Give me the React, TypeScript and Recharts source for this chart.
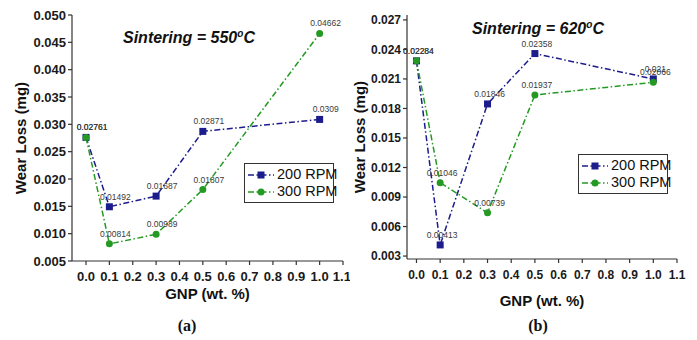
import { LineChart, Line, XAxis, YAxis, Legend, LabelList } from "recharts";

const gnp = [0, 0.1, 0.3, 0.5, 1.0];
const xTicks = [0, 0.1, 0.2, 0.3, 0.4, 0.5, 0.6, 0.7, 0.8, 0.9, 1.0, 1.1];

const rpm200at550 = [0.02761, 0.01492, 0.01687, 0.02871, 0.0309];
const rpm300at550 = [0.02761, 0.00814, 0.00989, 0.01807, 0.04662];
const rpm200at620 = [0.02284, 0.00413, 0.01846, 0.02358, 0.021];
const rpm300at620 = [0.02284, 0.01046, 0.00739, 0.01937, 0.02066];

const ticks550 = [0.005, 0.01, 0.015, 0.02, 0.025, 0.03, 0.035, 0.04, 0.045, 0.05];
const ticks620 = [0.003, 0.006, 0.009, 0.012, 0.015, 0.018, 0.021, 0.024, 0.027];

const BLUE = "#1c1c8c";
const GREEN = "#249a24";
const DASH = "6 2.5 1.5 2.5";
const FONT = "'Liberation Sans', Arial, sans-serif";

const build = (a: number[], b: number[]) =>
  gnp.map((x, i) => ({ x, r200: a[i], r300: b[i] }));

const SquareDot = (props: any) => {
  const { cx, cy, index } = props;
  return <rect key={"s" + index} x={cx - 3.5} y={cy - 3.5} width={7} height={7} fill={BLUE} />;
};
const RoundDot = (props: any) => {
  const { cx, cy, index } = props;
  return <circle key={"c" + index} cx={cx} cy={cy} r={3.5} fill={GREEN} />;
};

const ValueLabel = (dx: number) => (props: any) => {
  const { x, y, value, index } = props;
  return (
    <text key={"l" + index} x={x + dx} y={y - 7} textAnchor="middle" fontSize={8.5} fill="#3a3a3a" fontFamily={FONT}>
      {String(value)}
    </text>
  );
};

const LegendBox = (props: any) => {
  const items = props.payload || [];
  return (
    <div style={{ border: "1px solid #333", background: "#fff", padding: "2px 3px", fontFamily: FONT, fontSize: 14.5, color: "#111", width: 82, whiteSpace: "nowrap", lineHeight: "17px" }}>
      {items.map((p: any) => {
        const blue = p.value === "200 RPM";
        return (
          <div key={p.value} style={{ display: "flex", alignItems: "center", height: 17 }}>
            <svg width={26} height={10} style={{ marginRight: 3, flex: "none" }}>
              <line x1={0} y1={5} x2={26} y2={5} stroke={blue ? BLUE : GREEN} strokeWidth={1.5} strokeDasharray={DASH} />
              {blue ? <rect x={9.5} y={1.5} width={7} height={7} fill={BLUE} /> : <circle cx={13} cy={5} r={3.5} fill={GREEN} />}
            </svg>
            <span>{p.value}</span>
          </div>
        );
      })}
    </div>
  );
};

type PanelProps = {
  data: { x: number; r200: number; r300: number }[];
  width: number;
  margin: { top: number; right: number; bottom: number; left: number };
  xDomain: [number, number];
  yDomain: [number, number];
  yTicks: number[];
  yWidth: number;
  tickFont: number;
  yLabelOffset: number;
  xLabelOffset: number;
  labelDx: number;
  legendPos: { left: number; top: number };
};

function Panel(p: PanelProps) {
  const tickStyle = { fill: "#1a1a1a", fontSize: p.tickFont, fontWeight: 700, fontFamily: FONT };
  const axisStroke = { stroke: "#333", strokeWidth: 1.2 };
  return (
    <LineChart width={p.width} height={340} data={p.data} margin={p.margin}>
      <XAxis
        dataKey="x"
        type="number"
        domain={p.xDomain}
        ticks={xTicks}
        tickFormatter={(v: number) => v.toFixed(1)}
        allowDataOverflow
        height={30}
        tick={tickStyle}
        tickSize={4}
        tickMargin={7}
        axisLine={axisStroke}
        tickLine={axisStroke}
        label={{ value: "GNP (wt. %)", position: "bottom", offset: p.xLabelOffset, style: { fontSize: 15, fontWeight: 700, fill: "#111", fontFamily: FONT } }}
      />
      <XAxis
        xAxisId="top"
        dataKey="x"
        type="number"
        orientation="top"
        domain={p.xDomain}
        ticks={xTicks}
        allowDataOverflow
        mirror
        height={0}
        tick={false}
        tickSize={4}
        axisLine={axisStroke}
        tickLine={axisStroke}
      />
      <YAxis
        type="number"
        domain={p.yDomain}
        ticks={p.yTicks}
        tickFormatter={(v: number) => v.toFixed(3)}
        allowDataOverflow
        width={p.yWidth}
        tick={tickStyle}
        tickSize={4}
        tickMargin={2}
        axisLine={axisStroke}
        tickLine={axisStroke}
        label={{ value: "Wear Loss (mg)", angle: -90, position: "insideLeft", offset: p.yLabelOffset, style: { textAnchor: "middle", fontSize: 15, fontWeight: 700, fill: "#111", fontFamily: FONT } }}
      />
      <YAxis
        yAxisId="right"
        type="number"
        orientation="right"
        domain={p.yDomain}
        ticks={p.yTicks}
        allowDataOverflow
        mirror
        width={0}
        tick={false}
        tickSize={4}
        axisLine={axisStroke}
        tickLine={axisStroke}
      />
      <Legend
        layout="horizontal"
        verticalAlign="middle"
        align="center"
        content={LegendBox}
        wrapperStyle={{ left: p.legendPos.left, top: p.legendPos.top, width: "auto" }}
      />
      <Line
        name="200 RPM"
        dataKey="r200"
        stroke={BLUE}
        strokeWidth={1.5}
        strokeDasharray={DASH}
        dot={SquareDot}
        activeDot={false}
        isAnimationActive={false}
      >
        <LabelList dataKey="r200" content={ValueLabel(p.labelDx)} />
      </Line>
      <Line
        name="300 RPM"
        dataKey="r300"
        stroke={GREEN}
        strokeWidth={1.5}
        strokeDasharray={DASH}
        dot={RoundDot}
        activeDot={false}
        isAnimationActive={false}
      >
        <LabelList dataKey="r300" content={ValueLabel(p.labelDx)} />
      </Line>
    </LineChart>
  );
}

const titleStyle = (left: number, top: number): React.CSSProperties => ({
  position: "absolute",
  left,
  top,
  fontFamily: FONT,
  fontSize: 16,
  fontWeight: 700,
  fontStyle: "italic",
  color: "#111",
  whiteSpace: "nowrap",
});

const captionStyle = (cx: number): React.CSSProperties => ({
  position: "absolute",
  left: cx - 20,
  width: 40,
  top: 317,
  textAlign: "center",
  fontFamily: "'Liberation Serif', 'DejaVu Serif', serif",
  fontWeight: 700,
  fontSize: 16,
  color: "#111",
});

export default function App() {
  return (
    <div style={{ position: "absolute", left: 0, top: 0, width: 697, height: 340, background: "#fff", overflow: "hidden" }}>
      <div style={{ position: "absolute", left: 0, top: 0 }}>
        <Panel
          data={build(rpm200at550, rpm300at550)}
          width={350}
          margin={{ top: 15, right: 7, bottom: 49, left: 12 }}
          xDomain={[-0.06, 1.1]}
          yDomain={[0.005, 0.05]}
          yTicks={ticks550}
          yWidth={60}
          tickFont={13}
          yLabelOffset={9}
          xLabelOffset={-3}
          labelDx={6}
          legendPos={{ left: 244, top: 163 }}
        />
      </div>
      <div style={{ position: "absolute", left: 350, top: 0 }}>
        <Panel
          data={build(rpm200at620, rpm300at620)}
          width={347}
          margin={{ top: 15, right: 20, bottom: 51, left: 2 }}
          xDomain={[-0.04, 1.1]}
          yDomain={[0.0027, 0.0275]}
          yTicks={ticks620}
          yWidth={55}
          tickFont={12}
          yLabelOffset={8}
          xLabelOffset={6}
          labelDx={2}
          legendPos={{ left: 228, top: 154 }}
        />
      </div>
      <div style={titleStyle(123, 28)}>
        Sintering = 550<sup style={{ fontSize: 10 }}>o</sup>C
      </div>
      <div style={titleStyle(472, 19)}>
        Sintering = 620<sup style={{ fontSize: 10 }}>o</sup>C
      </div>
      <div style={captionStyle(187)}>(a)</div>
      <div style={captionStyle(538)}>(b)</div>
    </div>
  );
}
